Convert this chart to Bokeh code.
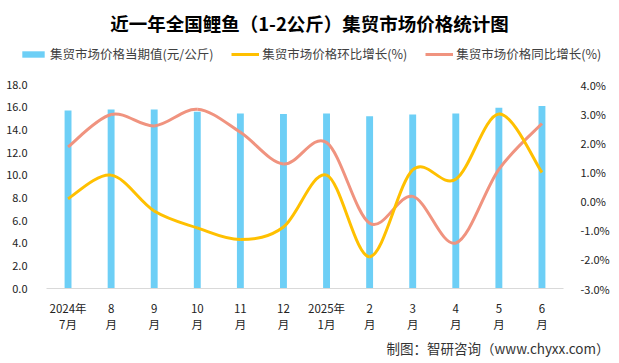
from bokeh.plotting import figure
from bokeh.models import (Range1d, LinearAxis, Legend, LegendItem, Label, Title,
                          FixedTicker, CustomJSTickFormatter, ColumnDataSource)
from bokeh.embed import file_html
from bokeh.resources import INLINE

months = ["2024年\n7月", "8\n月", "9\n月", "10\n月", "11\n月", "12\n月",
          "2025年\n1月", "2\n月", "3\n月", "4\n月", "5\n月", "6\n月"]
price = [15.7, 15.8, 15.8, 15.6, 15.45, 15.4, 15.45, 15.2, 15.35, 15.45, 15.95, 16.1]
mom = [0.08, 0.89, -0.34, -0.92, -1.32, -0.89, 0.89, -1.91, 1.07, 0.75, 2.99, 0.98]
yoy = [1.86, 2.97, 2.58, 3.15, 2.36, 1.27, 2.01, -0.76, 0.16, -1.44, 1.09, 2.66]
left_ticks = [0, 2, 4, 6, 8, 10, 12, 14, 16, 18]
right_ticks = [-3, -2, -1, 0, 1, 2, 3, 4]

FONT = "Noto Sans CJK SC"
BAR = "#6dcff6"
YEL = "#ffc000"
SAL = "#f0937f"

xs = list(range(len(months)))
n = len(months)

W, H = 619, 363
# reference plot area (pixels)
PL, PR, FT, FB = 46, 563, 84, 288
# frame is widened so that title and legend (annotations) are not clipped
FL, FRM = 16, 605
u = (PR - PL) / n
x_start = -0.5 - (PL - FL) / u
x_end = n - 0.5 + (FRM - PR) / u
ltop = left_ticks[-1] * FB / (FB - FT)
rtop = right_ticks[0] + (right_ticks[-1] - right_ticks[0]) * FB / (FB - FT)

p = figure(width=W, height=H, x_range=Range1d(x_start, x_end),
           y_range=Range1d(left_ticks[0], ltop), output_backend="svg",
           toolbar_location=None, min_border_left=FL, min_border_right=W - FRM,
           min_border_top=0, min_border_bottom=H - FB)
p.extra_y_ranges = {"pct": Range1d(right_ticks[0], rtop)}
p.outline_line_color = None
p.xgrid.visible = False
p.ygrid.visible = False
p.background_fill_color = "white"
p.border_fill_color = "white"

# left axis
ya = p.yaxis[0]
ya.ticker = FixedTicker(ticks=left_ticks)
ya.formatter = CustomJSTickFormatter(code="return tick.toFixed(1)")
ya.axis_line_color = None
ya.major_tick_line_color = None
ya.minor_tick_line_color = None
ya.major_label_standoff = FL - 33
ya.major_label_text_font = FONT
ya.major_label_text_font_size = "11px"
ya.major_label_text_color = "#222222"

# right axis
ra = LinearAxis(y_range_name="pct", ticker=FixedTicker(ticks=right_ticks),
                formatter=CustomJSTickFormatter(code="return tick.toFixed(1) + '%'"))
ra.axis_line_color = None
ra.major_tick_line_color = None
ra.minor_tick_line_color = None
ra.major_label_standoff = 574 - FRM
ra.major_label_text_font = FONT
ra.major_label_text_font_size = "11px"
ra.major_label_text_color = "#222222"
p.add_layout(ra, "right")

# bottom axis
xa = p.xaxis[0]
xa.ticker = FixedTicker(ticks=xs)
xa.bounds = (-0.5, n - 0.5)
xa.major_label_overrides = {i: m for i, m in enumerate(months)}
xa.axis_line_color = "#d9d9d9"
xa.major_tick_line_color = None
xa.minor_tick_line_color = None
xa.major_label_standoff = 5
xa.major_label_text_font = FONT
xa.major_label_text_font_size = "11.5px"
xa.major_label_text_color = "#222222"
xa.major_label_text_line_height = 1.0

# bars
bars = p.vbar(x=xs, top=price, width=0.16, fill_color=BAR, line_color=None)


def smooth(ys):
    d = dict(x0=[], y0=[], x1=[], y1=[], cx0=[], cy0=[], cx1=[], cy1=[])
    for i in range(n - 1):
        a = i - 1 if i > 0 else i
        b = i + 2 if i + 2 < n else i + 1
        d["x0"].append(xs[i]); d["y0"].append(ys[i])
        d["x1"].append(xs[i + 1]); d["y1"].append(ys[i + 1])
        d["cx0"].append(xs[i] + (xs[i + 1] - xs[a]) / 6)
        d["cy0"].append(ys[i] + (ys[i + 1] - ys[a]) / 6)
        d["cx1"].append(xs[i + 1] - (xs[b] - xs[i]) / 6)
        d["cy1"].append(ys[i + 1] - (ys[b] - ys[i]) / 6)
    return ColumnDataSource(d)


p.bezier(x0="x0", y0="y0", x1="x1", y1="y1", cx0="cx0", cy0="cy0", cx1="cx1",
         cy1="cy1", source=smooth(yoy), line_color=SAL, line_width=3,
         y_range_name="pct")
p.bezier(x0="x0", y0="y0", x1="x1", y1="y1", cx0="cx0", cy0="cy0", cx1="cx1",
         cy1="cy1", source=smooth(mom), line_color=YEL, line_width=3,
         y_range_name="pct")

# one-point line renderers (invisible on the plot) that carry the legend swatches
lm = p.line(x=xs[:1], y=mom[:1], line_color=YEL, line_width=3, y_range_name="pct")
ly = p.line(x=xs[:1], y=yoy[:1], line_color=SAL, line_width=3, y_range_name="pct")

legend = Legend(items=[
    LegendItem(label="集贸市场价格当期值(元/公斤)", renderers=[bars]),
    LegendItem(label="集贸市场价格环比增长(%)", renderers=[lm]),
    LegendItem(label="集贸市场价格同比增长(%)", renderers=[ly]),
], orientation="horizontal", location=(19 - FL, FB - 63), padding=0, margin=0,
    spacing=18, glyph_width=28, glyph_height=8, label_height=14,
    label_standoff=3, label_text_font=FONT, label_text_font_size="12.5px",
    label_text_color="#404040", border_line_color=None, background_fill_alpha=0)
p.add_layout(legend, "center")

# title
p.add_layout(Label(x=309 - FL, y=FB - 22.5, x_units="screen", y_units="screen",
                   text="近一年全国鲤鱼（1-2公斤）集贸市场价格统计图",
                   text_font=FONT, text_font_size="18.5px", text_font_style="bold",
                   text_color="#000000", text_align="center", text_baseline="middle"))

# footer
p.add_layout(Title(text="制图：智研咨询（www.chyxx.com）", align="right",
                   offset=601 - FRM, standoff=2, text_font=FONT,
                   text_font_size="13.5px", text_font_style="normal",
                   text_color="#333333"), "below")

open("out.html", "w").write(file_html(p, INLINE))
